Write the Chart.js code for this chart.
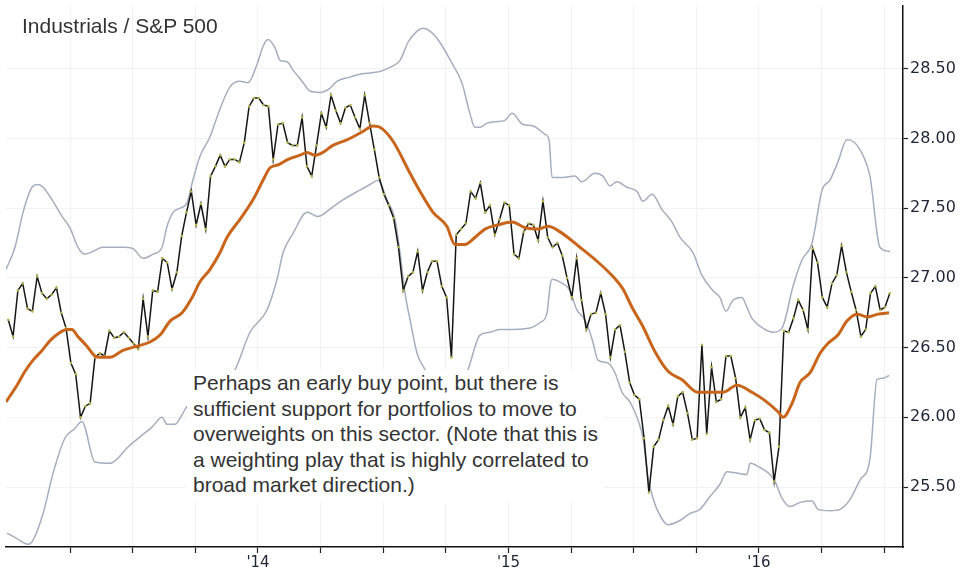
<!DOCTYPE html>
<html>
<head>
<meta charset="utf-8">
<script src="https://cdn.jsdelivr.net/npm/chart.js@4.4.1/dist/chart.umd.min.js"></script>
<style>
  html, body { margin: 0; padding: 0; background: #ffffff; }
  #wrap { position: relative; width: 961px; height: 577px; overflow: hidden; }
  #c { position: absolute; left: 0; top: 0; }
  #title { position: absolute; left: 22px; top: 15px; font: 21px "Liberation Sans", Arial, sans-serif; line-height: 21px; color: #333333; white-space: nowrap; }
  #note { position: absolute; left: 187px; top: 370px; padding: 0 6px 5px 6px; font: 21px "Liberation Sans", Arial, sans-serif; line-height: 25.6px; color: #333333; background: #ffffff; white-space: nowrap; }
</style>
</head>
<body>
<div id="wrap">
  <canvas id="c" width="961" height="577"></canvas>
  <div id="title">Industrials / S&amp;P 500</div>
  <div id="note">Perhaps an early buy point, but there is<br>sufficient support for portfolios to move to<br>overweights on this sector. (Note that this is<br>a weighting play that is highly correlated to<br>broad market direction.)</div>
</div>
<script>
// ---- Data ----
const seriesStartYear = 2013.003;   // first weekly observation (fractional year)
const weeksPerYear = 52;

// Industrials / S&P 500 relative ratio, weekly
const ratioValues = [
  26.70, 26.58, 26.91, 26.96, 26.78, 26.76, 27.01, 26.89, 26.85, 26.88,
  26.93, 26.75, 26.64, 26.39, 26.31, 26.00, 26.08, 26.10, 26.43, 26.46,
  26.44, 26.62, 26.57, 26.58, 26.61, 26.57, 26.53, 26.49, 26.85, 26.58,
  26.91, 26.90, 27.14, 27.11, 26.92, 27.04, 27.30, 27.47, 27.62, 27.38,
  27.53, 27.35, 27.73, 27.80, 27.88, 27.80, 27.85, 27.85, 27.83, 27.97,
  28.23, 28.29, 28.29, 28.24, 28.23, 27.85, 28.10, 28.11, 27.97, 27.95,
  27.95, 28.15, 27.80, 27.73, 27.95, 28.18, 28.08, 28.31, 28.20, 28.11,
  28.22, 28.24, 28.15, 28.07, 28.31, 28.11, 27.92, 27.72, 27.60, 27.52,
  27.43, 27.22, 26.91, 27.01, 27.04, 27.19, 26.91, 27.04, 27.12, 27.12,
  26.94, 26.86, 26.43, 27.31, 27.35, 27.39, 27.62, 27.57, 27.68, 27.47,
  27.52, 27.31, 27.42, 27.54, 27.52, 27.17, 27.14, 27.33, 27.39, 27.38,
  27.27, 27.55, 27.29, 27.22, 27.25, 27.16, 27.00, 26.86, 27.14, 26.84,
  26.63, 26.74, 26.75, 26.89, 26.74, 26.43, 26.63, 26.66, 26.47, 26.25,
  26.16, 26.13, 25.85, 25.46, 25.79, 25.84, 25.98, 26.08, 25.95, 26.15,
  26.18, 26.03, 25.84, 25.85, 26.52, 25.88, 26.36, 26.11, 26.13, 26.44,
  26.44, 26.28, 26.00, 26.07, 25.84, 25.98, 25.99, 25.91, 25.89, 25.54,
  25.79, 26.62, 26.61, 26.71, 26.84, 26.77, 26.63, 27.21, 27.11, 26.86,
  26.79, 26.96, 27.02, 27.23, 27.04, 26.90, 26.77, 26.58, 26.63, 26.89,
  26.94, 26.77, 26.79, 26.89
];

// Moving average (orange)
const maDates = [
  2012.994, 2013.038, 2013.070, 2013.102, 2013.138, 2013.170, 2013.202, 2013.238, 2013.257, 2013.281,
  2013.317, 2013.349, 2013.369, 2013.409, 2013.461, 2013.517, 2013.569, 2013.609, 2013.649, 2013.697,
  2013.737, 2013.768, 2013.808, 2013.848, 2013.876, 2013.928, 2013.980, 2014.020, 2014.048, 2014.080,
  2014.120, 2014.168, 2014.196, 2014.228, 2014.259, 2014.299, 2014.355, 2014.419, 2014.459, 2014.487,
  2014.539, 2014.607, 2014.647, 2014.699, 2014.754, 2014.786, 2014.826, 2014.866, 2014.906, 2014.958,
  2015.014, 2015.066, 2015.118, 2015.158, 2015.206, 2015.285, 2015.353, 2015.417, 2015.457, 2015.493,
  2015.537, 2015.585, 2015.637, 2015.693, 2015.756, 2015.796, 2015.856, 2015.912, 2015.972, 2016.024,
  2016.076, 2016.096, 2016.132, 2016.164, 2016.204, 2016.244, 2016.275, 2016.315, 2016.351, 2016.391,
  2016.435, 2016.475, 2016.519
];
const maValues = [
  26.11, 26.23, 26.33, 26.41, 26.48, 26.55, 26.60, 26.63, 26.63, 26.58,
  26.51, 26.44, 26.43, 26.43, 26.48, 26.51, 26.54, 26.59, 26.69, 26.75,
  26.86, 26.97, 27.06, 27.18, 27.29, 27.42, 27.56, 27.70, 27.79, 27.81,
  27.85, 27.88, 27.90, 27.88, 27.90, 27.95, 27.99, 28.05, 28.09, 28.08,
  27.98, 27.75, 27.62, 27.47, 27.37, 27.24, 27.24, 27.29, 27.35, 27.38,
  27.40, 27.36, 27.35, 27.37, 27.33, 27.22, 27.12, 27.01, 26.92, 26.79,
  26.65, 26.47, 26.33, 26.27, 26.18, 26.18, 26.18, 26.23, 26.18, 26.12,
  26.04, 26.00, 26.10, 26.25, 26.32, 26.46, 26.53, 26.59, 26.69, 26.74,
  26.72, 26.74, 26.75
];

// Upper band (grey)
const upperDates = [
  2012.994, 2013.030, 2013.062, 2013.098, 2013.122, 2013.142, 2013.178, 2013.218, 2013.249, 2013.281,
  2013.309, 2013.341, 2013.381, 2013.421, 2013.461, 2013.501, 2013.541, 2013.581, 2013.617, 2013.637,
  2013.661, 2013.689, 2013.717, 2013.740, 2013.768, 2013.808, 2013.848, 2013.888, 2013.928, 2013.960,
  2013.996, 2014.020, 2014.040, 2014.068, 2014.088, 2014.116, 2014.140, 2014.176, 2014.208, 2014.247,
  2014.287, 2014.315, 2014.367, 2014.407, 2014.447, 2014.487, 2014.527, 2014.567, 2014.599, 2014.635,
  2014.659, 2014.687, 2014.726, 2014.774, 2014.814, 2014.846, 2014.866, 2014.886, 2014.914, 2014.946,
  2014.986, 2015.014, 2015.058, 2015.098, 2015.146, 2015.162, 2015.174, 2015.217, 2015.265, 2015.293,
  2015.345, 2015.377, 2015.405, 2015.433, 2015.473, 2015.513, 2015.537, 2015.573, 2015.613, 2015.653,
  2015.685, 2015.737, 2015.772, 2015.816, 2015.844, 2015.868, 2015.896, 2015.932, 2015.952, 2015.972,
  2016.016, 2016.056, 2016.092, 2016.136, 2016.172, 2016.212, 2016.252, 2016.283, 2016.315, 2016.351,
  2016.375, 2016.403, 2016.443, 2016.483, 2016.523
];
const upperValues = [
  27.06, 27.22, 27.47, 27.65, 27.67, 27.65, 27.56, 27.44, 27.36, 27.22,
  27.17, 27.19, 27.22, 27.22, 27.22, 27.21, 27.14, 27.17, 27.22, 27.37,
  27.47, 27.50, 27.54, 27.70, 27.87, 28.01, 28.21, 28.37, 28.41, 28.40,
  28.53, 28.66, 28.71, 28.65, 28.56, 28.55, 28.49, 28.41, 28.34, 28.33,
  28.36, 28.41, 28.44, 28.46, 28.47, 28.48, 28.51, 28.56, 28.69, 28.77,
  28.79, 28.77, 28.69, 28.54, 28.40, 28.18, 28.08, 28.08, 28.11, 28.12,
  28.13, 28.18, 28.10, 28.09, 28.03, 27.99, 27.72, 27.72, 27.73, 27.69,
  27.75, 27.73, 27.66, 27.69, 27.65, 27.62, 27.55, 27.60, 27.49, 27.40,
  27.29, 27.18, 27.02, 26.91, 26.86, 26.76, 26.84, 26.86, 26.79, 26.71,
  26.64, 26.61, 26.64, 26.94, 27.13, 27.25, 27.63, 27.70, 27.83, 27.99,
  27.98, 27.92, 27.73, 27.22, 27.19
];

// Lower band (grey)
const lowerDates = [
  2012.998, 2013.038, 2013.082, 2013.102, 2013.142, 2013.182, 2013.229, 2013.269, 2013.297, 2013.349,
  2013.409, 2013.437, 2013.477, 2013.529, 2013.577, 2013.617, 2013.637, 2013.669, 2013.697, 2013.717,
  2013.768, 2013.816, 2013.864, 2013.908, 2013.968, 2014.036, 2014.076, 2014.100, 2014.140, 2014.196,
  2014.239, 2014.299, 2014.339, 2014.407, 2014.447, 2014.479, 2014.515, 2014.547, 2014.567, 2014.587,
  2014.607, 2014.635, 2014.667, 2014.707, 2014.746, 2014.786, 2014.838, 2014.886, 2014.926, 2014.966,
  2015.018, 2015.086, 2015.126, 2015.154, 2015.166, 2015.174, 2015.206, 2015.245, 2015.273, 2015.297,
  2015.317, 2015.337, 2015.357, 2015.397, 2015.425, 2015.453, 2015.485, 2015.517, 2015.537, 2015.557,
  2015.577, 2015.593, 2015.637, 2015.685, 2015.724, 2015.764, 2015.804, 2015.844, 2015.872, 2015.912,
  2015.952, 2015.964, 2016.004, 2016.044, 2016.064, 2016.092, 2016.124, 2016.164, 2016.212, 2016.236,
  2016.283, 2016.323, 2016.363, 2016.403, 2016.443, 2016.471, 2016.495, 2016.519
];
const lowerValues = [
  25.17, 25.13, 25.09, 25.12, 25.31, 25.60, 25.85, 25.92, 25.97, 25.68,
  25.67, 25.70, 25.78, 25.86, 25.93, 26.00, 25.95, 25.95, 26.02, 26.08,
  26.14, 26.20, 26.26, 26.34, 26.61, 26.77, 26.99, 27.18, 27.32, 27.47,
  27.44, 27.51, 27.56, 27.63, 27.67, 27.70, 27.56, 27.42, 27.18, 26.89,
  26.70, 26.46, 26.34, 26.16, 26.09, 26.16, 26.34, 26.59, 26.61, 26.63,
  26.63, 26.64, 26.68, 26.75, 26.94, 26.99, 26.97, 26.91, 26.77, 26.72,
  26.65, 26.54, 26.41, 26.39, 26.32, 26.18, 26.11, 25.98, 25.85, 25.57,
  25.42, 25.34, 25.23, 25.26, 25.31, 25.34, 25.43, 25.52, 25.61, 25.60,
  25.59, 25.67, 25.64, 25.59, 25.54, 25.42, 25.36, 25.39, 25.40, 25.34,
  25.33, 25.34, 25.41, 25.55, 25.70, 26.27, 26.28, 26.30
];

// Axis ticks
const yTickValues = [25.5, 26.0, 26.5, 27.0, 27.5, 28.0, 28.5];
const xTickValues = [2013.25, 2013.5, 2013.75, 2014, 2014.25, 2014.5, 2014.75, 2015, 2015.25, 2015.5, 2015.75, 2016, 2016.25, 2016.5];
const xTickLabels = ['', '', '', "'14", '', '', '', "'15", '', '', '', "'16", '', ''];
const xMin = 2012.994, xMax = 2016.575;
const yMin = 25.07, yMax = 28.95;

// ---- Build datasets ----
const ratioPoints = ratioValues.map((v, i) => ({ x: seriesStartYear + i / weeksPerYear, y: v }));
const maPoints = maDates.map((d, i) => ({ x: d, y: maValues[i] }));
const upperPoints = upperDates.map((d, i) => ({ x: d, y: upperValues[i] }));
const lowerPoints = lowerDates.map((d, i) => ({ x: d, y: lowerValues[i] }));

const bandColor = '#a4aebf';

new Chart(document.getElementById('c'), {
  type: 'line',
  data: {
    datasets: [
      { label: 'Moving average', data: maPoints, borderColor: '#c8651b', borderWidth: 3, pointRadius: 0, cubicInterpolationMode: 'monotone', order: 0 },
      { label: 'Industrials / S&P 500', data: ratioPoints, borderColor: '#151515', borderWidth: 1.5, pointRadius: 1.3, pointBorderWidth: 0, pointBackgroundColor: '#b9b24e', tension: 0, order: 1 },
      { label: 'Upper band', data: upperPoints, borderColor: bandColor, borderWidth: 1.5, pointRadius: 0, cubicInterpolationMode: 'monotone', order: 2 },
      { label: 'Lower band', data: lowerPoints, borderColor: bandColor, borderWidth: 1.5, pointRadius: 0, cubicInterpolationMode: 'monotone', order: 2 }
    ]
  },
  options: {
    responsive: false,
    animation: false,
    devicePixelRatio: 1,
    parsing: false,
    normalized: true,
    layout: { padding: { left: 6, top: 6, right: 0, bottom: 0 } },
    plugins: { legend: { display: false }, tooltip: { enabled: false }, title: { display: false } },
    scales: {
      x: {
        type: 'linear',
        position: 'bottom',
        min: xMin,
        max: xMax,
        afterBuildTicks: (scale) => { scale.ticks = xTickValues.map(v => ({ value: v })); },
        afterFit: (scale) => { scale.height = 30; scale.paddingLeft = 0; scale.paddingRight = 0; },
        grid: { color: '#f1f2f4', lineWidth: 1, drawTicks: true, tickLength: 6, tickColor: '#222222', tickWidth: 1.2 },
        border: { display: true, color: '#111111', width: 1.5 },
        ticks: {
          autoSkip: false, maxRotation: 0, minRotation: 0, padding: 1,
          color: '#1d2436',
          font: { family: '"DejaVu Sans", Verdana, sans-serif', size: 15 },
          callback: (value, index) => xTickLabels[index]
        }
      },
      y: {
        type: 'linear',
        position: 'right',
        min: yMin,
        max: yMax,
        afterBuildTicks: (scale) => { scale.ticks = yTickValues.map(v => ({ value: v })); },
        afterFit: (scale) => { scale.width = 58; scale.paddingTop = 0; scale.paddingBottom = 0; },
        grid: { color: '#f1f2f4', lineWidth: 1, drawTicks: true, tickLength: 5, tickColor: '#222222', tickWidth: 1.2 },
        border: { display: true, color: '#111111', width: 1.5 },
        ticks: {
          padding: 2,
          color: '#1d2436',
          font: { family: '"DejaVu Sans", Verdana, sans-serif', size: 16 },
          callback: (value) => Number(value).toFixed(2)
        }
      }
    }
  }
});
</script>
</body>
</html>
